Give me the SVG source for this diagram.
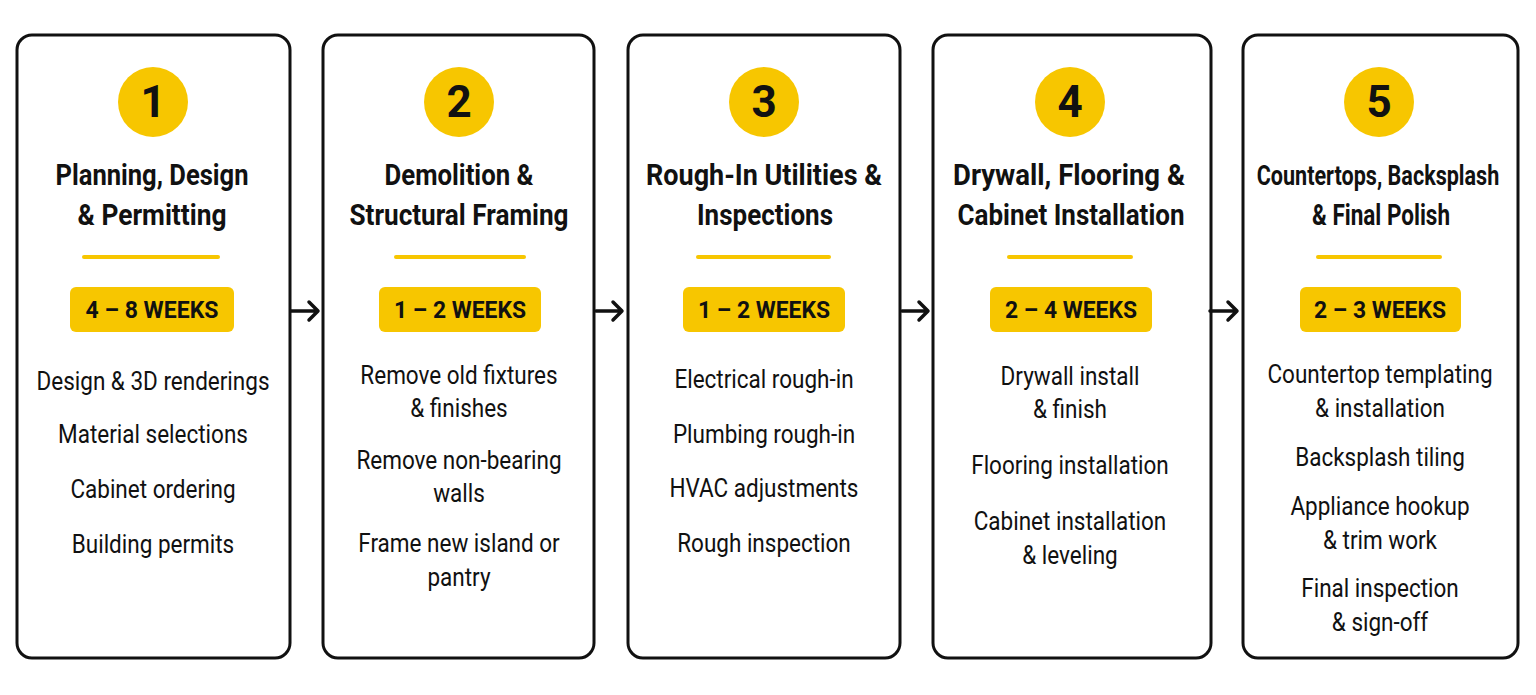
<svg xmlns="http://www.w3.org/2000/svg" width="1536" height="695" viewBox="0 0 1536 695">
<style>
.card{fill:#fff;stroke:#111;stroke-width:3}
.num{fill:#F7C600}
.numt{font-family:Roboto,"Liberation Sans",sans-serif;font-weight:700;font-size:44px;fill:#111;text-anchor:middle}
.title{font-family:Roboto,"Liberation Sans",sans-serif;font-weight:700;font-size:30px;fill:#111;text-anchor:middle}
.rule{stroke:#F7C600;stroke-width:4;stroke-linecap:round}
.badge{fill:#F7C600}
.bt{font-family:Roboto,"Liberation Sans",sans-serif;font-weight:700;font-size:23px;fill:#111;text-anchor:middle}
.item{font-family:Roboto,"Liberation Sans",sans-serif;font-size:25px;fill:#111;text-anchor:middle}
.arrow{fill:none;stroke:#111;stroke-width:3.5;stroke-linecap:round;stroke-linejoin:round}
</style>
<rect width="1536" height="695" fill="#fff"/>

<g id="step1">
<rect class="card" x="17" y="35" width="273" height="623" rx="15"/>
<circle class="num" cx="153" cy="102" r="35"/>
<text class="numt" x="153" y="117">1</text>
<text class="title" x="152" y="185" textLength="193" lengthAdjust="spacingAndGlyphs">Planning, Design</text>
<text class="title" x="152" y="225" textLength="149" lengthAdjust="spacingAndGlyphs">&amp; Permitting</text>
<line class="rule" x1="84" y1="257" x2="218" y2="257"/>
<rect class="badge" x="70" y="287" width="164" height="45" rx="6"/>
<text class="bt" x="152" y="318" textLength="133" lengthAdjust="spacingAndGlyphs">4 – 8 WEEKS</text>
<g transform="translate(153,0) scale(0.9,1)">
<text class="item" x="0" y="390">Design &amp; 3D renderings</text>
<text class="item" x="0" y="443">Material selections</text>
<text class="item" x="0" y="498">Cabinet ordering</text>
<text class="item" x="0" y="553">Building permits</text>
</g>
</g>

<g id="step2">
<rect class="card" x="323" y="35" width="271" height="623" rx="15"/>
<circle class="num" cx="459" cy="102" r="35"/>
<text class="numt" x="459" y="117">2</text>
<text class="title" x="459" y="185" textLength="149" lengthAdjust="spacingAndGlyphs">Demolition &amp;</text>
<text class="title" x="459" y="225" textLength="219" lengthAdjust="spacingAndGlyphs">Structural Framing</text>
<line class="rule" x1="396" y1="257" x2="524" y2="257"/>
<rect class="badge" x="379" y="287" width="162" height="45" rx="6"/>
<text class="bt" x="460" y="318" textLength="132" lengthAdjust="spacingAndGlyphs">1 – 2 WEEKS</text>
<g transform="translate(459,0) scale(0.9,1)">
<text class="item" x="0" y="384">Remove old fixtures</text>
<text class="item" x="0" y="417">&amp; finishes</text>
<text class="item" x="0" y="469">Remove non-bearing</text>
<text class="item" x="0" y="502">walls</text>
<text class="item" x="0" y="552">Frame new island or</text>
<text class="item" x="0" y="586">pantry</text>
</g>
</g>

<g id="step3">
<rect class="card" x="628" y="35" width="272" height="623" rx="15"/>
<circle class="num" cx="764" cy="102" r="35"/>
<text class="numt" x="764" y="117">3</text>
<text class="title" x="764" y="185" textLength="236" lengthAdjust="spacingAndGlyphs">Rough-In Utilities &amp;</text>
<text class="title" x="765" y="225" textLength="136" lengthAdjust="spacingAndGlyphs">Inspections</text>
<line class="rule" x1="698" y1="257" x2="829" y2="257"/>
<rect class="badge" x="683" y="287" width="162" height="45" rx="6"/>
<text class="bt" x="764" y="318" textLength="132" lengthAdjust="spacingAndGlyphs">1 – 2 WEEKS</text>
<g transform="translate(764,0) scale(0.9,1)">
<text class="item" x="0" y="388">Electrical rough-in</text>
<text class="item" x="0" y="443">Plumbing rough-in</text>
<text class="item" x="0" y="497">HVAC adjustments</text>
<text class="item" x="0" y="552">Rough inspection</text>
</g>
</g>

<g id="step4">
<rect class="card" x="933" y="35" width="278" height="623" rx="15"/>
<circle class="num" cx="1070" cy="102" r="35"/>
<text class="numt" x="1070" y="117">4</text>
<text class="title" x="1069" y="185" textLength="232" lengthAdjust="spacingAndGlyphs">Drywall, Flooring &amp;</text>
<text class="title" x="1071" y="225" textLength="227" lengthAdjust="spacingAndGlyphs">Cabinet Installation</text>
<line class="rule" x1="1009" y1="257" x2="1131" y2="257"/>
<rect class="badge" x="990" y="287" width="162" height="45" rx="6"/>
<text class="bt" x="1071" y="318" textLength="132" lengthAdjust="spacingAndGlyphs">2 – 4 WEEKS</text>
<g transform="translate(1070,0) scale(0.9,1)">
<text class="item" x="0" y="385">Drywall install</text>
<text class="item" x="0" y="418">&amp; finish</text>
<text class="item" x="0" y="474">Flooring installation</text>
<text class="item" x="0" y="530">Cabinet installation</text>
<text class="item" x="0" y="564">&amp; leveling</text>
</g>
</g>

<g id="step5">
<rect class="card" x="1243" y="35" width="275" height="623" rx="15"/>
<circle class="num" cx="1379" cy="102" r="35"/>
<text class="numt" x="1379" y="117">5</text>
<g transform="translate(1378,0) scale(0.86,1)">
<text class="title" x="0" y="185" style="font-size:27px" textLength="282" lengthAdjust="spacingAndGlyphs">Countertops, Backsplash</text>
</g>
<text class="title" x="1381" y="225" textLength="138" lengthAdjust="spacingAndGlyphs">&amp; Final Polish</text>
<line class="rule" x1="1318" y1="257" x2="1440" y2="257"/>
<rect class="badge" x="1300" y="287" width="161" height="45" rx="6"/>
<text class="bt" x="1380" y="318" textLength="132" lengthAdjust="spacingAndGlyphs">2 – 3 WEEKS</text>
<g transform="translate(1380,0) scale(0.9,1)">
<text class="item" x="0" y="383">Countertop templating</text>
<text class="item" x="0" y="417">&amp; installation</text>
<text class="item" x="0" y="466">Backsplash tiling</text>
<text class="item" x="0" y="515">Appliance hookup</text>
<text class="item" x="0" y="549">&amp; trim work</text>
<text class="item" x="0" y="597">Final inspection</text>
<text class="item" x="0" y="631">&amp; sign-off</text>
</g>
</g>

<g id="connectors">
<path class="arrow" d="M291 311H317M309 302L318 311L309 320"/>
<path class="arrow" d="M596 311H621M613 302L622 311L613 320"/>
<path class="arrow" d="M902 311H927M919 302L928 311L919 320"/>
<path class="arrow" d="M1210 311H1236M1228 302L1237 311L1228 320"/>
</g>
</svg>
